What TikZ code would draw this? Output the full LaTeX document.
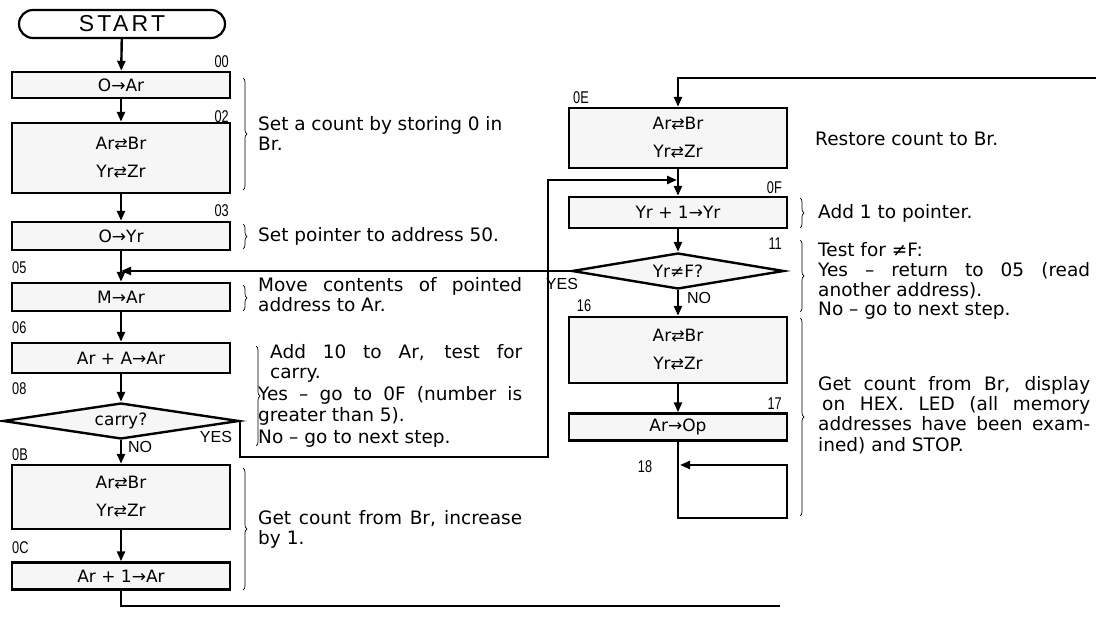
\documentclass[tikz,border=0pt]{standalone}
\usepackage{fontspec}
\setmainfont{DejaVu Sans}
\newfontfamily\lblf{Liberation Sans}
\usetikzlibrary{arrows.meta,shapes.geometric,shapes.misc,decorations.pathreplacing}
\newcommand{\jline}[2]{\makebox[#1pt][s]{#2}}
\newcommand{\xch}{{\fontsize{16}{16}\selectfont ⇄}}
\begin{document}
\begin{tikzpicture}[x=1pt,y=-1pt,
  ln/.style={line width=2.4pt},
  arr/.style={line width=2.4pt,-{Triangle[length=10pt,width=8pt]}},
  box/.style={draw,line width=2.4pt,fill=gray!7,minimum width=218pt,inner sep=0pt,font=\fontsize{17}{28}\selectfont,align=center},
  dia/.style={draw,diamond,line width=2.4pt,fill=gray!7,inner sep=0pt,font=\fontsize{17}{18}\selectfont},
  lbl/.style={font=\lblf\fontsize{17}{17}\selectfont,inner sep=0pt},
  yn/.style={font=\lblf\fontsize{16}{16}\selectfont,inner sep=0pt},
  txt/.style={font=\fontsize{18.5}{20}\selectfont,inner sep=0pt,anchor=base west},
  brc/.style={decorate,decoration={brace,amplitude=4pt},line width=0.7pt},
]
\useasboundingbox (0,0) rectangle (1096,620);

% ---------- left column ----------
\node[draw,rounded rectangle,line width=2.2pt,minimum width=206pt,minimum height=28pt,inner sep=0pt,font=\lblf\fontsize{23}{23}\selectfont] (start) at (122,24) {\addfontfeatures{LetterSpace=14}START};
\node[box,minimum height=26pt] (b00) at (121,85) {O→Ar};
\node[box,minimum height=70pt] (b02) at (121,158) {Ar\xch Br\\Yr\xch Zr};
\node[box,minimum height=28pt] (b03) at (121,236) {O→Yr};
\node[box,minimum height=28pt] (b05) at (121,297) {M→Ar};
\node[box,minimum height=30pt] (b06) at (121,358) {Ar + A→Ar};
\node[dia,aspect=8,minimum width=236pt,minimum height=36pt] (d08) at (121,421) {carry?};
\node[box,minimum height=64pt] (b0B) at (121,497) {Ar\xch Br\\Yr\xch Zr};
\node[box,minimum height=27pt] (b0C) at (121,576) {Ar + 1→Ar};

\node[lbl,anchor=east] (l00) at (229,62) {\scalebox{.75}[1]{00}};
\node[lbl,anchor=east] (l02) at (229,117) {\scalebox{.75}[1]{02}};
\node[lbl,anchor=east] (l03) at (229,211) {\scalebox{.75}[1]{03}};
\node[lbl,anchor=west] (l05) at (12,268) {\scalebox{.75}[1]{05}};
\node[lbl,anchor=west] (l06) at (12,328) {\scalebox{.75}[1]{06}};
\node[lbl,anchor=west] (l08) at (12,389) {\scalebox{.75}[1]{08}};
\node[lbl,anchor=west] (l0B) at (12,455) {\scalebox{.75}[1]{0B}};
\node[lbl,anchor=west] (l0C) at (12,548) {\scalebox{.75}[1]{0C}};
\node[yn] (yes1) at (216,437) {YES};
\node[yn] (no1) at (140,447) {NO};

% ---------- right column ----------
\node[box,minimum height=60pt] (b0E) at (678,138) {Ar\xch Br\\Yr\xch Zr};
\node[box,minimum height=31pt] (b0F) at (678,212.5) {Yr + 1→Yr};
\node[dia,aspect=8,minimum width=212pt,minimum height=36pt] (d11) at (678,271) {Yr≠F?};
\node[box,minimum height=66pt] (b16) at (678,350) {Ar\xch Br\\Yr\xch Zr};
\node[box,minimum height=27pt] (b17) at (678,427) {Ar→Op};

\node[lbl,anchor=west] (l0E) at (573,98) {\scalebox{.75}[1]{0E}};
\node[lbl,anchor=east] (l0F) at (782,188) {\scalebox{.75}[1]{0F}};
\node[lbl,anchor=east] (l11) at (782,244) {\scalebox{.75}[1]{11}};
\node[lbl] (l16) at (584,306) {\scalebox{.75}[1]{16}};
\node[lbl,anchor=east] (l17) at (782,404) {\scalebox{.75}[1]{17}};
\node[lbl] (l18) at (645,467) {\scalebox{.75}[1]{18}};
\node[yn] (yes2) at (562,284) {YES};
\node[yn] (no2) at (699,298) {NO};

% ---------- connectors ----------
\draw[arr] (start) -- (b00);
\draw[arr] (b00) -- (b02);
\draw[arr] (b02) -- (b03);
\draw[arr] (b03) -- (b05);
\draw[arr] (b05) -- (b06);
\draw[arr] (b06) -- (d08);
\draw[arr] (d08) -- (b0B);
\draw[arr] (b0B) -- (b0C);
\coordinate (bout) at (780,606);
\draw[ln] (b0C.south) |- (bout);

\coordinate (tin) at (1096,78);
\draw[arr] (tin) -| (b0E.north);
\draw[arr] (b0E) -- (b0F);
\draw[arr] (b0F) -- (d11);
\draw[arr] (d11) -- (b16);
\draw[arr] (b16) -- (b17);
\coordinate (lpa) at (787,518);
\coordinate (lpb) at (680,465);
\draw[arr] (b17.south) |- (lpa) |- (lpb);

\coordinate (yc) at (548,457);
\coordinate (j0F) at (677,180);
\draw[arr] (d08.east) |- (yc) |- (j0F);
\draw[arr] (d11.west) -- (d11.west -| b05.center);

% ---------- braces ----------
\draw[brc] (243,78) -- (243,190);
\draw[brc] (243,224) -- (243,249);
\draw[brc] (243,285) -- (243,311);
\draw[brc] (256,346) -- (256,446);
\draw[brc] (243,468) -- (243,590);
\draw[brc] (800,198) -- (800,228);
\draw[brc] (800,240) -- (800,312);
\draw[brc] (800,318) -- (800,516);

% ---------- comments ----------
\node[txt] (t1a) at (258,131) {\jline{244}{Set a count by storing 0 in}};
\node[txt] (t1b) at (258,151) {Br.};
\node[txt] (t2) at (258,242) {Set pointer to address 50.};
\node[txt] (t3a) at (258,292) {\jline{264}{Move contents of pointed}};
\node[txt] (t3b) at (258,312) {address to Ar.};
\node[txt] (t4a) at (270,359) {\jline{252}{Add 10 to Ar, test for}};
\node[txt] (t4b) at (270,379) {carry.};
\node[txt] (t4c) at (258,401) {\jline{264}{Yes – go to 0F (number is}};
\node[txt] (t4d) at (258,422) {greater than 5).};
\node[txt] (t4e) at (258,443) {No – go to next step.};
\node[txt] (t5a) at (258,524) {\jline{264}{Get count from Br, increase}};
\node[txt] (t5b) at (258,544) {by 1.};

\node[txt] (r1) at (815,146) {Restore count to Br.};
\node[txt] (r2) at (818,219) {Add 1 to pointer.};
\node[txt] (r3a) at (818,257) {Test for ≠F:};
\node[txt] (r3b) at (818,277) {\jline{272}{Yes – return to 05 (read}};
\node[txt] (r3c) at (818,297) {another address).};
\node[txt] (r3d) at (818,316) {No – go to next step.};
\node[txt] (r4a) at (818,391) {\jline{272}{Get count from Br, display}};
\node[txt] (r4b) at (822,411) {\jline{268}{on HEX. LED (all memory}};
\node[txt] (r4c) at (818,431) {\jline{272}{addresses have been exam-}};
\node[txt] (r4d) at (818,451) {ined) and STOP.};
\end{tikzpicture}
\end{document}
